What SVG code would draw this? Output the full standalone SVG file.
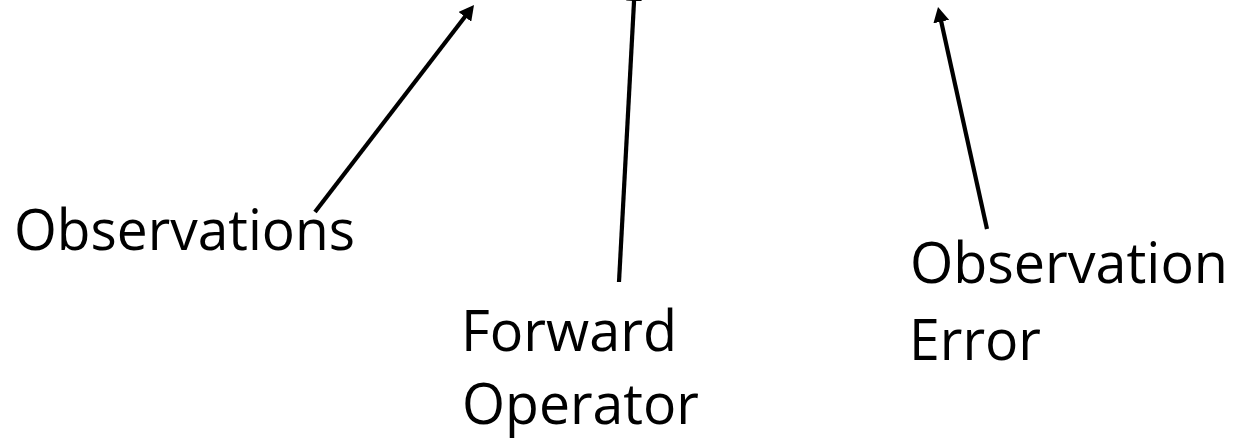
<svg xmlns="http://www.w3.org/2000/svg" width="1242" height="439" viewBox="0 0 1242 439">
  <style>
    .lbl { font-family: "Open Sans", "Noto Sans", "Liberation Sans", sans-serif; font-size: 57px; fill: #000; }
    .conn { stroke: #000; stroke-width: 4.2; fill: none; marker-end: url(#arrow); }
  </style>
  <defs>
    <marker id="arrow" markerUnits="userSpaceOnUse" markerWidth="16" markerHeight="16" refX="3" refY="8" orient="auto" viewBox="0 0 16 16">
      <path d="M0,0 L15,8 L0,16 z" fill="#000"/>
    </marker>
  </defs>
  <rect width="1242" height="439" fill="#fff"/>
  <g id="connectors">
    <line class="conn" x1="315" y1="212" x2="466.7" y2="14.5"/>
    <line class="conn" x1="619" y1="282" x2="634.2" y2="-2"/>
    <line class="conn" x1="987" y1="229" x2="940.6" y2="18.7"/>
  </g>
  <g id="observations">
    <text class="lbl" x="14" y="250" textLength="341" lengthAdjust="spacingAndGlyphs">Observations</text>
  </g>
  <g id="forward-operator">
    <text class="lbl" x="461" y="351" textLength="216" lengthAdjust="spacingAndGlyphs">Forward</text>
    <text class="lbl" x="462" y="424" textLength="237" lengthAdjust="spacingAndGlyphs">Operator</text>
  </g>
  <g id="observation-error">
    <text class="lbl" x="910" y="283" textLength="318" lengthAdjust="spacingAndGlyphs">Observation</text>
    <text class="lbl" x="909" y="360" textLength="132" lengthAdjust="spacingAndGlyphs">Error</text>
  </g>
</svg>
